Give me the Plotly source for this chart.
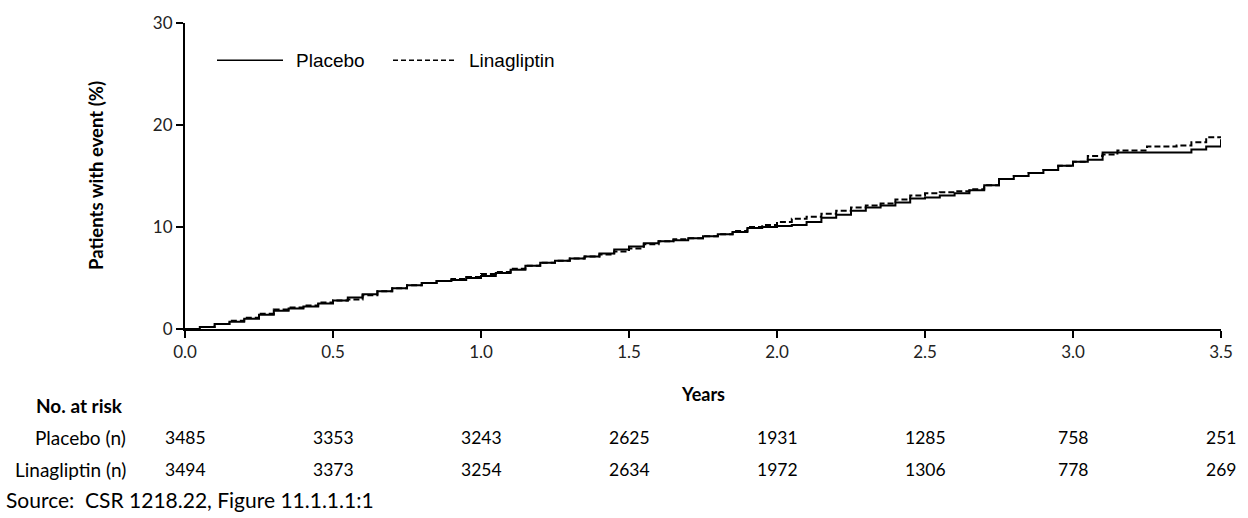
import plotly.graph_objects as go

# ---------------- data ----------------
times = [0.00, 0.05, 0.10, 0.15, 0.20, 0.25, 0.30, 0.35, 0.40, 0.45,
         0.50, 0.55, 0.60, 0.65, 0.70, 0.75, 0.80, 0.85, 0.90, 0.95,
         1.00, 1.05, 1.10, 1.15, 1.20, 1.25, 1.30, 1.35, 1.40, 1.45,
         1.50, 1.55, 1.60, 1.65, 1.70, 1.75, 1.80, 1.85, 1.90, 1.95,
         2.00, 2.05, 2.10, 2.15, 2.20, 2.25, 2.30, 2.35, 2.40, 2.45,
         2.50, 2.55, 2.60, 2.65, 2.70, 2.75, 2.80, 2.85, 2.90, 2.95,
         3.00, 3.05, 3.10, 3.15, 3.20, 3.25, 3.30, 3.35, 3.40, 3.45,
         3.50]

placebo_pct = [0.0, 0.2, 0.5, 0.7, 1.0, 1.4, 1.8, 2.0, 2.2, 2.5,
               2.8, 3.1, 3.4, 3.7, 4.0, 4.3, 4.5, 4.7, 4.8, 5.0,
               5.2, 5.5, 5.8, 6.2, 6.5, 6.7, 6.9, 7.1, 7.4, 7.8,
               8.1, 8.4, 8.6, 8.7, 8.9, 9.1, 9.3, 9.5, 9.9, 10.0,
               10.1, 10.2, 10.5, 10.9, 11.2, 11.6, 11.9, 12.1, 12.4, 12.8,
               12.9, 13.1, 13.3, 13.6, 14.1, 14.7, 15.0, 15.3, 15.6, 16.0,
               16.4, 16.6, 17.3, 17.3, 17.3, 17.3, 17.3, 17.3, 17.6, 17.9,
               18.6]

linagliptin_pct = [0.0, 0.2, 0.5, 0.8, 1.1, 1.5, 1.9, 2.1, 2.3, 2.6,
                   2.8, 2.9, 3.3, 3.7, 4.0, 4.3, 4.5, 4.7, 4.9, 5.1,
                   5.4, 5.6, 5.9, 6.2, 6.5, 6.7, 6.9, 7.1, 7.3, 7.6,
                   7.9, 8.3, 8.6, 8.8, 8.9, 9.1, 9.3, 9.6, 10.0, 10.2,
                   10.5, 10.8, 11.0, 11.3, 11.6, 11.9, 12.1, 12.3, 12.7, 13.1,
                   13.3, 13.4, 13.5, 13.7, 14.1, 14.7, 15.0, 15.3, 15.6, 16.0,
                   16.4, 16.95, 17.1, 17.5, 17.5, 17.9, 17.9, 18.0, 18.3, 18.8,
                   18.8]

risk_times = [0.0, 0.5, 1.0, 1.5, 2.0, 2.5, 3.0, 3.5]
placebo_at_risk = [3485, 3353, 3243, 2625, 1931, 1285, 758, 251]
linagliptin_at_risk = [3494, 3373, 3254, 2634, 1972, 1306, 778, 269]

series_names = ["Placebo", "Linagliptin"]
risk_row_labels = ["Placebo (n)", "Linagliptin (n)"]
x_title = "Years"
y_title = "Patients with event (%)"
risk_title = "No. at risk"
source_text = "Source:  CSR 1218.22, Figure 11.1.1.1:1"

# ---------------- geometry ----------------
W, H = 1248, 518
L, R, T, B = 185, 27, 17, 189
PW = W - L - R
PH = H - T - B


def px_x(px):
    return (px - L) / PW


def px_y(py):
    return (H - B - py) / PH


CAL = "Lato, 'Open Sans', sans-serif"
ARIAL = "'Liberation Sans', Arial, sans-serif"

fig = go.Figure()
fig.add_trace(go.Scatter(x=times, y=placebo_pct, mode="lines", name=series_names[0],
                         line=dict(color="black", width=2, shape="hv"),
                         showlegend=False, hoverinfo="skip"))
fig.add_trace(go.Scatter(x=times, y=linagliptin_pct, mode="lines", name=series_names[1],
                         line=dict(color="black", width=2, shape="hv", dash="6px,3px"),
                         showlegend=False, hoverinfo="skip"))

fig.update_layout(
    width=W, height=H,
    margin=dict(l=L, r=R, t=T, b=B),
    paper_bgcolor="white", plot_bgcolor="white",
    showlegend=False,
    hovermode=False,
    xaxis=dict(range=[0, 3.5], tickmode="array", tickvals=risk_times,
               ticktext=[f"{v:.1f}" for v in risk_times],
               showgrid=False, zeroline=False, showline=True, linecolor="black",
               linewidth=2, ticks="outside", ticklen=7, tickwidth=2, tickcolor="black",
               tickfont=dict(family=CAL, size=17, color="#222")),
    yaxis=dict(range=[0, 30], tickmode="array", tickvals=[0, 10, 20, 30],
               showgrid=False, zeroline=False, showline=True, linecolor="black",
               linewidth=2, ticks="outside", ticklen=7, tickwidth=2, tickcolor="black",
               tickfont=dict(family=CAL, size=17, color="#222")),
)

ann = []
# y-axis title
ann.append(dict(text=f"<b>{y_title}</b>", xref="paper", yref="paper",
                x=px_x(96), y=0.5, textangle=-90, showarrow=False,
                xanchor="center", yanchor="middle",
                font=dict(family=CAL, size=18.5, color="black")))
# x-axis title
ann.append(dict(text=f"<b>{x_title}</b>", xref="paper", yref="paper",
                x=0.5, y=px_y(395), showarrow=False, xanchor="center", yanchor="middle",
                font=dict(family=CAL, size=18, color="black")))
# No. at risk
ann.append(dict(text=f"<b>{risk_title}</b>", xref="paper", yref="paper",
                x=px_x(34), y=px_y(407), showarrow=False, xanchor="left", yanchor="middle",
                font=dict(family=CAL, size=19, color="black")))
# risk rows
row_y = [440, 472]
for lab, yy in zip(risk_row_labels, row_y):
    ann.append(dict(text=lab, xref="paper", yref="paper", x=px_x(128), y=px_y(yy),
                    showarrow=False, xanchor="right", yanchor="middle",
                    font=dict(family=CAL, size=19, color="black")))
for vals, yy in zip([placebo_at_risk, linagliptin_at_risk], row_y):
    for t, v in zip(risk_times, vals):
        ann.append(dict(text=str(v), xref="x", yref="paper", x=t, y=px_y(yy),
                        showarrow=False, xanchor="center", yanchor="middle",
                        font=dict(family=CAL, size=17.5, color="black")))
# source
ann.append(dict(text=source_text, xref="paper", yref="paper", x=px_x(4), y=px_y(503),
                showarrow=False, xanchor="left", yanchor="middle",
                font=dict(family=CAL, size=21, color="black")))
# legend texts
ann.append(dict(text=series_names[0], xref="paper", yref="paper", x=px_x(294), y=px_y(55),
                showarrow=False, xanchor="left", yanchor="middle",
                font=dict(family=ARIAL, size=19, color="black")))
ann.append(dict(text=series_names[1], xref="paper", yref="paper", x=px_x(467), y=px_y(55),
                showarrow=False, xanchor="left", yanchor="middle",
                font=dict(family=ARIAL, size=19, color="black")))

shapes = [
    dict(type="line", xref="paper", yref="paper", x0=px_x(217), x1=px_x(283),
         y0=px_y(55), y1=px_y(55), line=dict(color="black", width=1.5)),
    dict(type="line", xref="paper", yref="paper", x0=px_x(393), x1=px_x(456),
         y0=px_y(55), y1=px_y(55), line=dict(color="black", width=1.5, dash="5px,3px")),
]

fig.update_layout(annotations=ann, shapes=shapes)
fig.write_html("out.html",
               config={"displayModeBar": False, "staticPlot": True},
               post_script="document.body.style.margin='0px';document.body.style.padding='0px';")
